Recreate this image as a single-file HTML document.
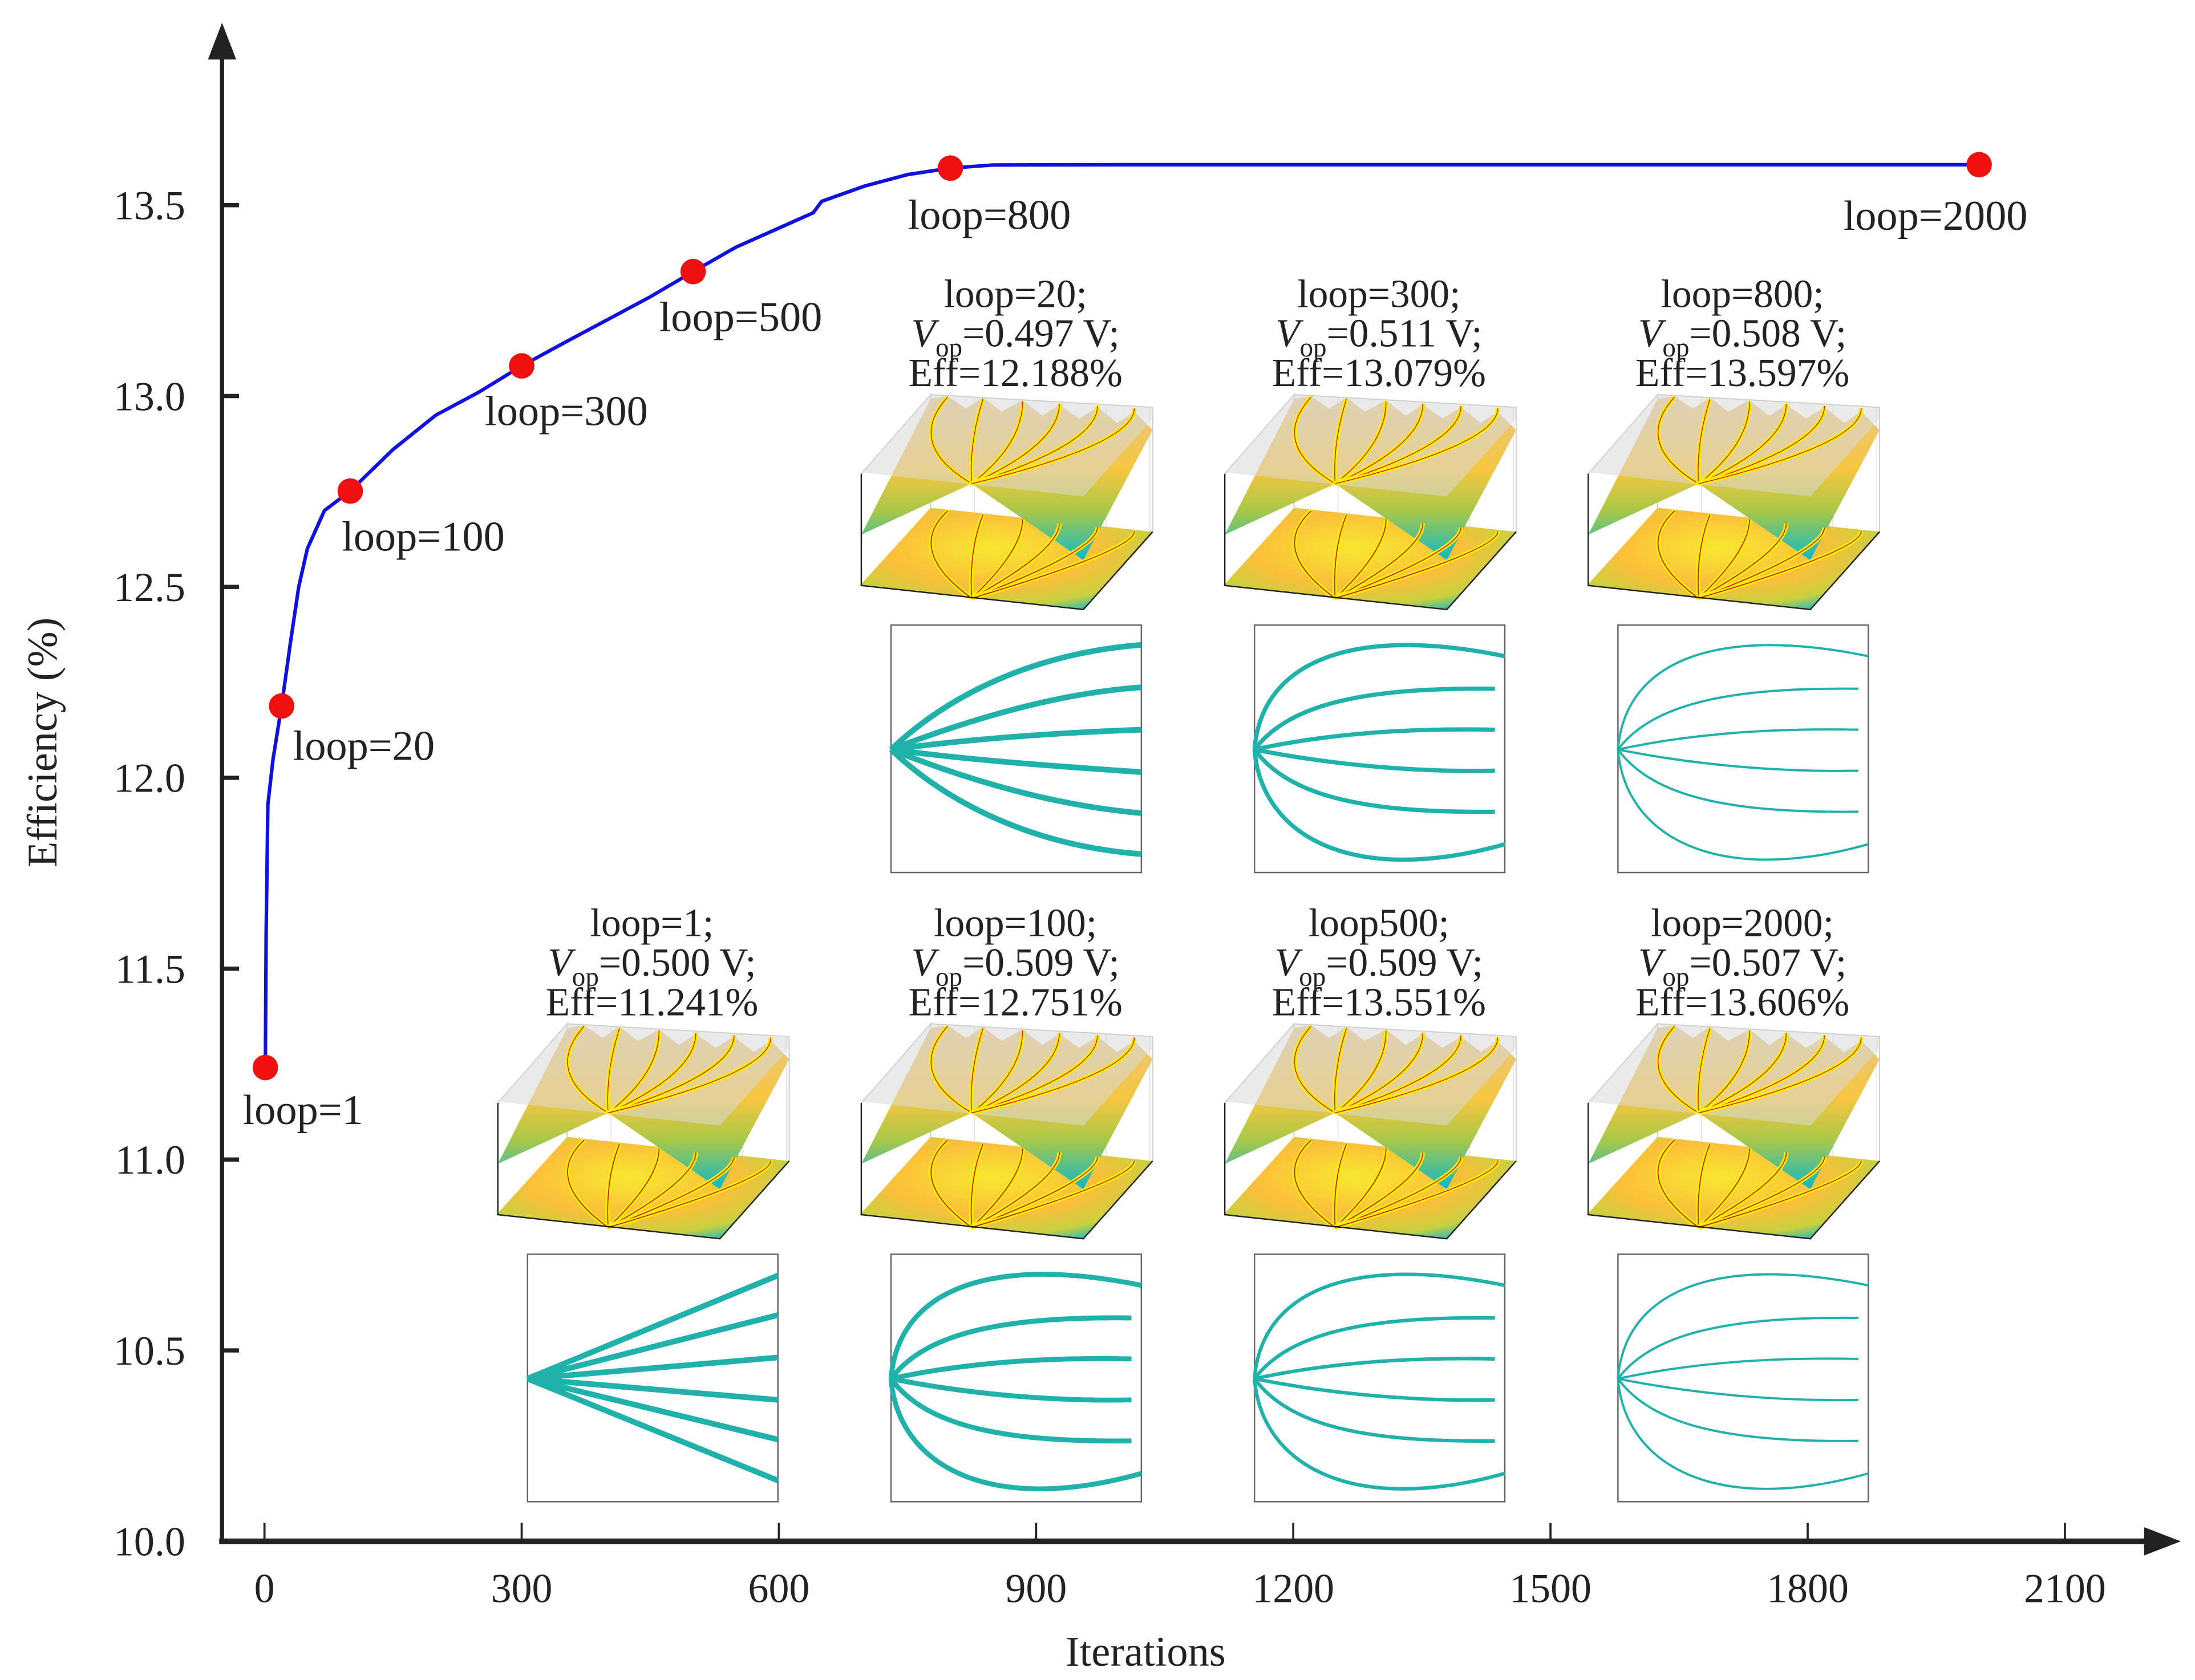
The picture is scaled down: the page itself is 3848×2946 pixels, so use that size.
<!DOCTYPE html>
<html><head><meta charset="utf-8"><style>
html,body{margin:0;padding:0;background:#fff;}
svg{display:block;}
text{font-family:"Liberation Serif",serif;fill:#222;}
</style></head><body>
<svg id="chart" width="3848" height="2946" viewBox="0 0 1552 1188" xmlns="http://www.w3.org/2000/svg">
<defs>
<linearGradient id="upg" x1="0" y1="0" x2="0" y2="1">
<stop offset="0" stop-color="#e6c88a"/><stop offset="0.45" stop-color="#f7c640"/><stop offset="0.7" stop-color="#a8c848"/><stop offset="1" stop-color="#10b8c8"/></linearGradient>
<radialGradient id="flg" cx="0.45" cy="0.4" r="0.7">
<stop offset="0" stop-color="#f7e830"/><stop offset="0.5" stop-color="#fbbf3a"/><stop offset="0.8" stop-color="#c8d040"/><stop offset="1" stop-color="#10b8c8"/></radialGradient>
</defs>
<g id="axes"></g>
<g id="insets"></g>
<g id="series"></g>
</svg>
<script>
const xTicks=[0,300,600,900,1200,1500,1800,2100];
const yTicks=[10.0,10.5,11.0,11.5,12.0,12.5,13.0,13.5];
const curveIter=[1,2,4,10,20,30,40,50,70,100,150,200,250,300,350,400,450,500,550,640,650,700,750,800,850,1000,2000];
const curveEff=[11.241,11.6,11.93,12.05,12.188,12.35,12.5,12.6,12.7,12.751,12.86,12.95,13.01,13.079,13.14,13.2,13.26,13.326,13.39,13.48,13.51,13.55,13.58,13.597,13.605,13.606,13.606];
const markIter=[1,20,100,300,500,800,2000];
const markEff=[11.241,12.188,12.751,13.079,13.326,13.597,13.606];
const markLabels=["loop=1","loop=20","loop=100","loop=300","loop=500","loop=800","loop=2000"];

const NS="http://www.w3.org/2000/svg";
function X(v){return 187+(v)*(1460-187)/2100;}
function Y(v){return 1090-(v-10)*270;}
function mk(tag,attrs,parent,txt){const e=document.createElementNS(NS,tag);for(const k in attrs)e.setAttribute(k,attrs[k]);if(txt!==undefined)e.textContent=txt;parent.appendChild(e);return e;}
const axes=document.getElementById('axes');
let e;
e=mk('line',{x1:157,y1:1090,x2:157,y2:36,stroke:'#222','stroke-width':3},axes);

e=mk('polygon',{points:'147,42 157,16 167,42',fill:'#222'},axes);

e=mk('line',{x1:155,y1:1090,x2:1520,y2:1090,stroke:'#222','stroke-width':4},axes);

e=mk('polygon',{points:'1516,1080 1542,1090 1516,1100',fill:'#222'},axes);

xTicks.forEach(t=>{
 e=mk('line',{x1:X(t),y1:1090,x2:X(t),y2:1077,stroke:'#222','stroke-width':1.5},axes);
 
 e=mk('text',{x:X(t),y:1133,'text-anchor':'middle','font-size':29},axes,String(t));
 
});
yTicks.forEach(t=>{
 e=mk('line',{x1:157,y1:Y(t),x2:169,y2:Y(t),stroke:'#222','stroke-width':3},axes);
 
 e=mk('text',{x:131,y:Y(t)+10,'text-anchor':'end','font-size':29},axes,t.toFixed(1));
 
});
e=mk('text',{x:810,y:1178,'text-anchor':'middle','font-size':30},axes,'Iterations');

e=mk('text',{x:0,y:0,'text-anchor':'middle','font-size':30,transform:'translate(40,525) rotate(-90)'},axes,'Efficiency (%)');


// insets
const insetSpecs=[
 {ox:597,oy:274,loop:'loop=20;',v:'0.497',eff:'12.188',type:'fan',w:4},
 {ox:854,oy:274,loop:'loop=300;',v:'0.511',eff:'13.079',type:'arc',w:3},
 {ox:1111,oy:274,loop:'loop=800;',v:'0.508',eff:'13.597',type:'arc',w:1.6},
 {ox:340,oy:719,loop:'loop=1;',v:'0.500',eff:'11.241',type:'line',w:4},
 {ox:597,oy:719,loop:'loop=100;',v:'0.509',eff:'12.751',type:'arc',w:3.5},
 {ox:854,oy:719,loop:'loop500;',v:'0.509',eff:'13.551',type:'arc',w:2.5},
 {ox:1111,oy:719,loop:'loop=2000;',v:'0.507',eff:'13.606',type:'arc',w:1.6}
];
const ins=document.getElementById('insets');
insetSpecs.forEach(s=>{
 const g=mk('g',{transform:`translate(${s.ox},${s.oy})`},ins);
 
 const cx=121;
 e=mk('text',{x:cx,y:-57,'text-anchor':'middle','font-size':28},g,s.loop);
 
 const t2=mk('text',{x:cx,y:-29,'text-anchor':'middle','font-size':28},g);
 
 const a=mk('tspan',{'font-style':'italic'},t2,'V');
 const b=mk('tspan',{'font-size':19,dy:7},t2,'op');
 const c=mk('tspan',{dy:-7},t2,'='+s.v+' V;');
 e=mk('text',{x:cx,y:-1,'text-anchor':'middle','font-size':28},g,'Eff='+s.eff+'%');
 
 // 3D plot
 const p=mk('g',{},g);
 mk('polyline',{points:'12,140 12,61 61,5 61,85',fill:'none',stroke:'#ccc','stroke-width':0.8},p);
 mk('polyline',{points:'61,5 218,14 218,102',fill:'none',stroke:'#ccc','stroke-width':0.8},p);
 for(let i=1;i<6;i++){mk('line',{x1:61+i*31,y1:5+i*1.8,x2:61+i*31,y2:85+i*3.4,stroke:'#ddd','stroke-width':0.6},p);}
 mk('polygon',{points:'11,140 61,85 218,102 169,157',fill:'url(#flg)'},p);
 mk('polygon',{points:'12,104 61,8 73,6 86,15 98,7 111,17 126,9 140,20 152,12 166,22 179,14 193,25 205,17 218,30 169,122 90,68',fill:'url(#upg)'},p);
 mk('polygon',{points:'12,60 61,5 218,14 218,22 169,77',fill:'#d8d8d8','fill-opacity':0.55},p);
 const tops=[73,98,126,152,179,205];
 tops.forEach((tx,i)=>{
  const ty=6+(tx-61)*0.06;
  const d=`M90,68 Q${tx-(i<2?30-i*20:0)},${40} ${tx},${ty}`;
  mk('path',{d,fill:'none',stroke:'#ffee00','stroke-width':3},p);
  mk('path',{d,fill:'none',stroke:'#d02010','stroke-width':0.6},p);
  const fy=86+(tx-61)*0.11;
  const d2=`M90,149 Q${tx-(i<2?30-i*20:0)},${115} ${tx},${fy}`;
  mk('path',{d:d2,fill:'none',stroke:'#ffee00','stroke-width':3},p);
  mk('path',{d:d2,fill:'none',stroke:'#c02010','stroke-width':0.7},p);
 });
 mk('polyline',{points:'12,61 12,140 169,157 218,102',fill:'none',stroke:'#222','stroke-width':1},p);
 // 2D box
 const q=mk('g',{transform:'translate(33,168)'},g);
 mk('rect',{x:0,y:0,width:177,height:175,fill:'#fff',stroke:'#666','stroke-width':1},q);
 let paths=[];
 if(s.type==='line'){[15,43,73,103,131,160].forEach(y=>paths.push(`M0,88 L177,${y}`));}
 else if(s.type==='fan'){paths=['M0,88 C40,50 100,20 177,14','M0,88 C60,65 120,48 177,44','M0,88 C60,80 120,76 177,74','M0,88 C60,96 120,100 177,104','M0,88 C60,112 120,128 177,133','M0,88 C40,126 100,156 177,162'];}
 else {paths=['M0,88 C5,25 70,0 177,22','M0,88 C25,55 80,44 170,45','M0,88 C60,75 120,73 170,74','M0,88 C60,100 120,104 170,103','M0,88 C25,122 80,133 170,132','M0,88 C5,150 70,185 177,155'];}
 paths.forEach(d=>{mk('path',{d,fill:'none',stroke:'#20b2aa','stroke-width':s.w},q);});
});

// series
const ser=document.getElementById('series');
const pts=curveIter.map((v,i)=>X(v).toFixed(1)+','+Y(curveEff[i]).toFixed(1)).join(' ');
e=mk('polyline',{points:pts,fill:'none',stroke:'#1010e0','stroke-width':2.5,'stroke-linejoin':'round'},ser);

const lblOff=[[-16,40],[8,38],[-6,42],[-26,42],[-24,42],[-30,43],[-96,46]];
markIter.forEach((v,i)=>{
 e=mk('circle',{cx:X(v),cy:Y(markEff[i]),r:9,fill:'#f01010'},ser);
 
 e=mk('text',{x:X(v)+lblOff[i][0],y:Y(markEff[i])+lblOff[i][1],'font-size':30},ser,markLabels[i]);
 
});
</script>
</body></html>
